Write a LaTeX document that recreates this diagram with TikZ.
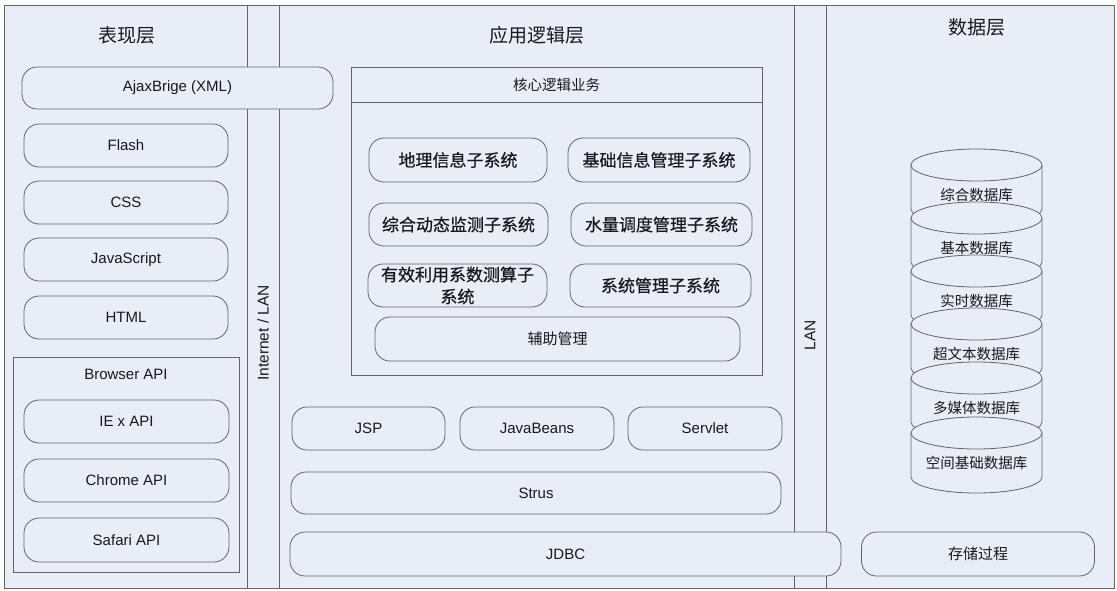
\documentclass[tikz,border=0pt]{standalone}
\usepackage{fontspec}
\setmainfont{Liberation Sans}
\newfontfamily\cjk{Noto Sans CJK SC}
\newfontfamily\cjkb[FakeBold=0.6]{Noto Sans CJK SC}
\definecolor{bgc}{RGB}{232,237,247}
\definecolor{linec}{RGB}{100,100,100}
\definecolor{txtc}{RGB}{25,25,25}
\begin{document}
\begin{tikzpicture}[x=1pt,y=-1pt,
  every node/.style={inner sep=0pt, outer sep=0pt, text=txtc},
  rbox/.style={draw=linec, fill=bgc, rounded corners=15pt, line width=0.8pt,
    font=\fontsize{15}{18}\selectfont},
  subbox/.style={rbox, font=\cjkb\fontsize{17}{22}\selectfont},
  cnbox/.style={rbox, font=\cjk\fontsize{15}{18}\selectfont},
  plainbox/.style={draw=linec, line width=0.8pt},
  title/.style={font=\cjk\fontsize{19}{22}\selectfont},
  dbtext/.style={font=\cjk\fontsize{14.5}{17}\selectfont},
  lantext/.style={rotate=90, font=\fontsize{15.5}{18}\selectfont}
]
\useasboundingbox (0,0) rectangle (1117,590);
\fill[white] (0,0) rectangle (1117,590);
\draw[linec, line width=0.8pt, fill=bgc] (4,5) rectangle (1114,588);
\draw[linec, line width=0.8pt] (247,5) -- (247,588);
\draw[linec, line width=0.8pt] (279,5) -- (279,588);
\draw[linec, line width=0.8pt] (794,5) -- (794,588);
\draw[linec, line width=0.8pt] (826,5) -- (826,588);

% titles
\node[title] (tpres) at (127,35) {表现层};
\node[title] (tapp) at (537,35) {应用逻辑层};
\node[title] (tdata) at (977,27) {数据层};

% strip labels
\node[lantext] (inet) at (263,333) {Internet / LAN};
\node[lantext] (lan) at (810,335) {LAN};

% presentation layer
\node[rbox, minimum width=311, minimum height=42] (ajax) at (177.5,88) {AjaxBrige (XML)};
\node[rbox, minimum width=204, minimum height=43] (flash) at (126,145.5) {Flash};
\node[rbox, minimum width=204, minimum height=43] (css) at (126,202.5) {CSS};
\node[rbox, minimum width=204, minimum height=43] (js) at (126,259.5) {JavaScript};
\node[rbox, minimum width=204, minimum height=43] (html) at (126,317.5) {HTML};
\node[plainbox, minimum width=226, minimum height=215] (bapi) at (126,464.5) {};
\node[font=\fontsize{15}{18}\selectfont] (bapilbl) at (126,374) {Browser API};
\node[rbox, minimum width=205, minimum height=43] (ie) at (126.5,421.5) {IE x API};
\node[rbox, minimum width=205, minimum height=43] (chrome) at (126.5,480.5) {Chrome API};
\node[rbox, minimum width=205, minimum height=44] (safari) at (126.5,540) {Safari API};

% application logic layer
\node[plainbox, minimum width=411, minimum height=308] (core) at (556.5,221) {};
\node[plainbox, minimum width=411, minimum height=35, font=\cjk\fontsize{14.5}{17}\selectfont] (corehead) at (556.5,84.5) {核心逻辑业务};
\node[subbox, minimum width=178, minimum height=44] (geo) at (458,160) {地理信息子系统};
\node[subbox, minimum width=182, minimum height=44] (basic) at (659,160) {基础信息管理子系统};
\node[subbox, minimum width=179, minimum height=43] (dyn) at (458.5,224.5) {综合动态监测子系统};
\node[subbox, minimum width=181, minimum height=43] (water) at (661.5,224.5) {水量调度管理子系统};
\node[subbox, minimum width=179, minimum height=43, align=center] (eff) at (457.5,285.5) {有效利用系数测算子\\系统};
\node[subbox, minimum width=181, minimum height=43] (sysm) at (660.5,285.5) {系统管理子系统};
\node[cnbox, minimum width=365, minimum height=44] (aux) at (557.5,339) {辅助管理};

\node[rbox, minimum width=153, minimum height=43] (jsp) at (368.5,428.5) {JSP};
\node[rbox, minimum width=154, minimum height=43] (beans) at (537,428.5) {JavaBeans};
\node[rbox, minimum width=154, minimum height=43] (servlet) at (705,428.5) {Servlet};
\node[rbox, minimum width=490, minimum height=42] (strus) at (536,493) {Strus};
\node[rbox, minimum width=551, minimum height=44] (jdbc) at (565.5,554) {JDBC};

% data layer
\node[cnbox, minimum width=233, minimum height=44] (proc) at (978,554) {存储过程};

\foreach \c/\t/\n in {165/综合数据库/db1, 218/基本数据库/db2, 271/实时数据库/db3,
                      324/超文本数据库/db4, 378/多媒体数据库/db5, 433/空间基础数据库/db6}{
  \fill[bgc] (911,\c) -- (911,\c+44) arc[start angle=180, end angle=360, x radius=65.5pt, y radius=16pt] -- (1042,\c) -- cycle;
  \draw[linec, line width=0.8pt] (911,\c) -- (911,\c+44) arc[start angle=180, end angle=360, x radius=65.5pt, y radius=16pt] -- (1042,\c);
  \draw[linec, line width=0.8pt, fill=bgc] (976.5,\c) ellipse [x radius=65.5pt, y radius=16pt];
  \node[dbtext] (\n) at (976.5,\c+30) {\t};
}
\end{tikzpicture}
\end{document}
